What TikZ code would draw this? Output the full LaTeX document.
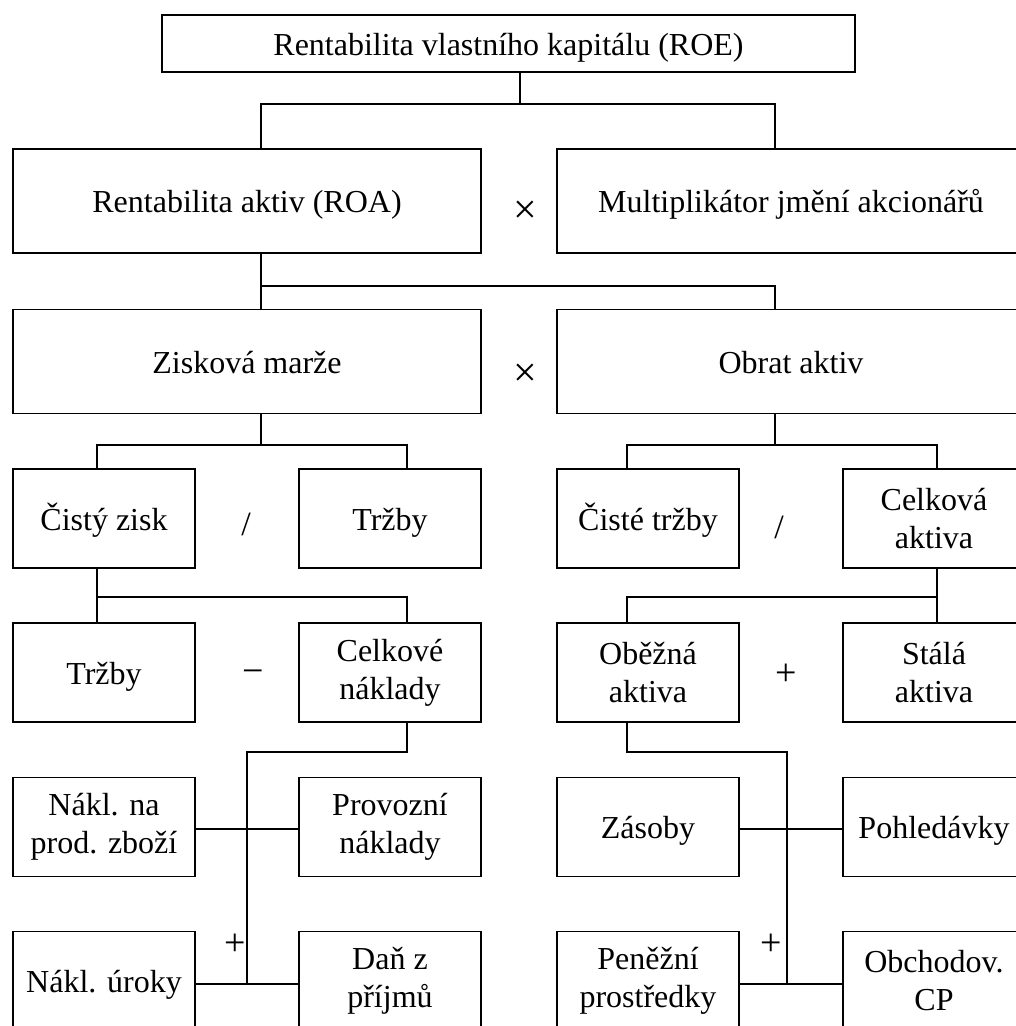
\documentclass[tikz,border=0pt]{standalone}
\usepackage{fontspec}
\setmainfont{Liberation Serif}
\begin{document}
\begin{tikzpicture}[x=1pt, y=-1pt, line width=1.6pt,
  txt/.style={font=\fontsize{32}{38}\selectfont},
  box/.style={draw, rectangle, inner sep=0pt, align=center, txt},
  oneline/.style={text height=30pt, text depth=7pt},
  top/.style={box, oneline, minimum width=693pt, minimum height=57pt},
  wide/.style={box, oneline, minimum width=468pt, minimum height=104pt},
  small/.style={box, minimum width=182pt, minimum height=99pt},
  small1/.style={small, oneline},
  op/.style={inner sep=0pt, font=\fontsize{34}{38}\selectfont},
  plus/.style={inner sep=0pt, font=\fontsize{38}{42}\selectfont},
  times/.style={inner sep=0pt, font=\fontsize{42}{46}\selectfont}]
\useasboundingbox (0,0) rectangle (1016,1026);
\clip (0,0) rectangle (1016,1026);

% boxes
\node[top]    (roe)  at (508.5,43.5) {Rentabilita vlastního kapitálu (ROE)};
\node[wide]   (roa)  at (247,201)    {Rentabilita aktiv (ROA)};
\node[wide]   (mult) at (791,201)    {Multiplikátor jmění akcionářů};
\node[wide]   (zm)   at (247,361.5)  {Zisková marže};
\node[wide]   (oa)   at (791,361.5)  {Obrat aktiv};

\node[small1] (cz)   at (104,518.5)  {Čistý zisk};
\node[small1] (tr1)  at (390,518.5)  {Tržby};
\node[small1] (ct)   at (648,518.5)  {Čisté tržby};
\node[small]  (cak)  at (934,518.5)  {Celková\\aktiva};

\node[small1] (tr2)  at (104,672.5)  {Tržby};
\node[small]  (cn)   at (390,672.5)  {Celkové\\náklady};
\node[small]  (ob)   at (648,672.5)  {Oběžná\\aktiva};
\node[small]  (sa)   at (934,672.5)  {Stálá\\aktiva};

\node[small]  (nz)   at (104,827)    {Nákl. na\\prod. zboží};
\node[small]  (pn)   at (390,827)    {Provozní\\náklady};
\node[small1] (zas)  at (648,827)    {Zásoby};
\node[small1] (poh)  at (934,827)    {Pohledávky};

\node[small1] (nu)   at (104,981)    {Nákl. úroky};
\node[small]  (dan)  at (390,981)    {Daň z\\příjmů};
\node[small]  (pp)   at (648,981)    {Peněžní\\prostředky};
\node[small]  (ocp)  at (934,981)    {Obchodov.\\CP};

% operators between boxes
\node[times] (x1) at (525,212.5) {×};
\node[times] (x2) at (525,375) {×};
\node[op]   (d1) at (246,524) {/};
\node[op]   (d2) at (779,527) {/};
\node[plus] (m1) at (253,677) {−};
\node[plus] (p1) at (786,675) {+};
\node[plus] (p2) at (235,945) {+};
\node[plus] (p3) at (771,945) {+};

% junction points of the tree
\coordinate (j1) at (520,104);
\coordinate (j2) at (261,286);
\coordinate (j3) at (261,445);
\coordinate (j4) at (775,445);
\coordinate (j5) at (97,597);
\coordinate (j6) at (937,597);
\coordinate (j7) at (407,752);
\coordinate (j8) at (627,752);
\coordinate (v1) at (247,752);
\coordinate (v2) at (787,752);
\coordinate (b1) at (247,984);
\coordinate (b2) at (787,984);

% ROE -> ROA x multiplier
\draw (roe.south -| j1) -- (j1);
\draw (roa.north -| j2) |- (j1) -| (mult.north -| j4);
% ROA -> profit margin x asset turnover
\draw (roa.south -| j2) -- (j2) -| (oa.north -| j4);
\draw (j2) -- (zm.north -| j2);
% profit margin -> net profit / sales
\draw (zm.south -| j3) -- (j3);
\draw (cz.north -| j5) |- (j3) -| (tr1.north -| j7);
% asset turnover -> net sales / total assets
\draw (oa.south -| j4) -- (j4);
\draw (ct.north -| j8) |- (j4) -| (cak.north -| j6);
% net profit -> sales - total costs
\draw (cz.south -| j5) -- (j5) -| (cn.north -| j7);
\draw (j5) -- (tr2.north -| j5);
% total assets -> current + fixed assets
\draw (cak.south -| j6) -- (j6) -| (ob.north -| j8);
\draw (j6) -- (sa.north -| j6);
% total costs -> cost items
\draw (cn.south -| j7) -- (j7) -- (v1) -- (b1);
\draw (nz.east |- 0,829) -- (pn.west |- 0,829);
\draw (nu.east |- b1) -- (dan.west |- b1);
% current assets -> items
\draw (ob.south -| j8) -- (j8) -- (v2) -- (b2);
\draw (zas.east |- 0,829) -- (poh.west |- 0,829);
\draw (pp.east |- b2) -- (ocp.west |- b2);
\end{tikzpicture}
\end{document}
